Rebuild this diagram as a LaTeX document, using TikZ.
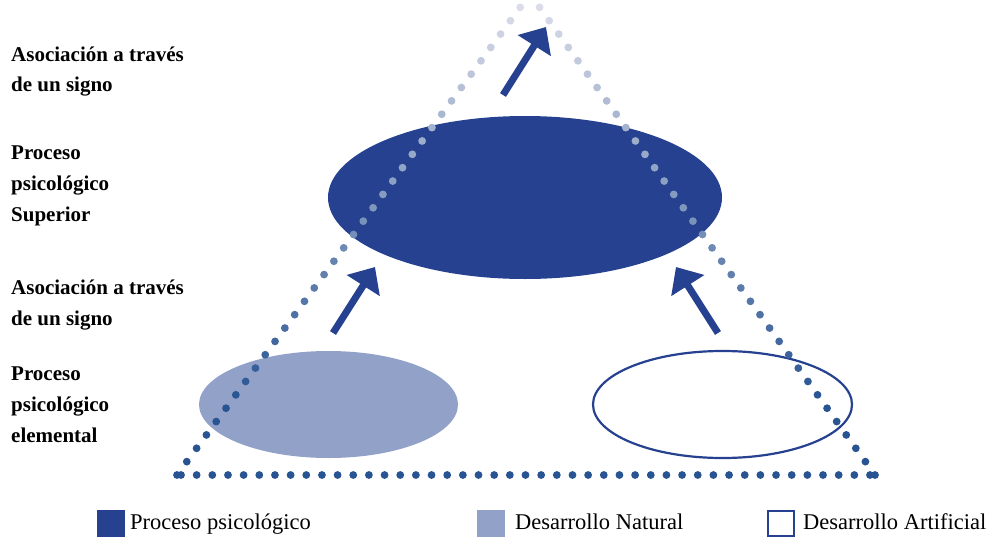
\documentclass[tikz,border=0pt]{standalone}
\usepackage{fontspec}
\setmainfont{Liberation Serif}
\usetikzlibrary{shapes.geometric,arrows.meta,calc}

\definecolor{mainblue}{RGB}{38,65,143}
\definecolor{natblue}{RGB}{146,161,200}
\definecolor{dotdark}{RGB}{40,84,146}
\definecolor{dotlight}{RGB}{228,228,238}

\begin{document}
\begin{tikzpicture}[x=1pt,y=-1pt,
  lbl/.style={anchor=base west,inner sep=0pt,font=\fontsize{21}{25}\selectfont\bfseries},
  legtext/.style={anchor=base west,inner sep=0pt,font=\fontsize{22.5}{26}\selectfont},
  procfill/.style={ellipse,fill=mainblue,inner sep=0pt},
  natfill/.style={ellipse,fill=natblue,inner sep=0pt},
  artline/.style={ellipse,draw=mainblue,line width=2.2pt,inner sep=0pt},
  bigarrow/.style={draw=mainblue,line width=7pt,
    -{Triangle[width=38pt,length=22pt]}},
  legbox/.style={rectangle,inner sep=0pt,minimum width=28pt,minimum height=27pt}]

\useasboundingbox (0,0) rectangle (991,538);
\clip (0,0) rectangle (991,538);

% process ellipses
\node[procfill,minimum width=394pt,minimum height=163pt] (sup) at (525,197.5) {};
\node[natfill,minimum width=259pt,minimum height=107pt] (nat) at (328.5,404.5) {};
\node[artline,minimum width=259pt,minimum height=107pt] (art) at (722.5,404.5) {};

% dotted triangle, fading towards the apex
\coordinate (BL) at (177,475);
\coordinate (BR) at (875,475);
\coordinate (AP) at (530,-6);
\foreach \xa/\ya/\xb/\yb/\n in {177/475/530/-6/36, 875/475/530/-6/36, 181/475/870/475/44}{
  \foreach \i in {0,...,\n}{
    \pgfmathsetmacro\fr{\i/\n}
    \pgfmathsetmacro\xx{\xa+(\xb-\xa)*\fr}
    \pgfmathsetmacro\yy{\ya+(\yb-\ya)*\fr}
    \pgfmathsetmacro\w{min(96,max(0,(400-\yy)/4.15))}
    \fill[dotlight!\w!dotdark] (\xx,\yy) circle (3.9);
  }
}

% association arrows
\coordinate (a1s) at (333,333);
\coordinate (a1e) at (375,267);
\coordinate (a2s) at (718,333);
\coordinate (a2e) at (676,267);
\coordinate (a3s) at (503,95);
\coordinate (a3e) at (546,27);
\draw[bigarrow] (a1s) -- (a1e);
\draw[bigarrow] (a2s) -- (a2e);
\draw[bigarrow] (a3s) -- (a3e);

% side labels
\node[lbl] (l1) at (11,61) {Asociación a través};
\node[lbl] (l2) at (11,91) {de un signo};
\node[lbl] (l3) at (11,159) {Proceso};
\node[lbl] (l4) at (11,190) {psicológico};
\node[lbl] (l5) at (11,221) {Superior};
\node[lbl] (l6) at (11,294) {Asociación a través};
\node[lbl] (l7) at (11,325) {de un signo};
\node[lbl] (l8) at (11,380) {Proceso};
\node[lbl] (l9) at (11,411) {psicológico};
\node[lbl] (l10) at (11,442) {elemental};

% legend
\node[legbox,fill=mainblue] (k1) at (111,523.5) {};
\node[legtext] (t1) at (130,529) {Proceso psicológico};
\node[legbox,fill=natblue] (k2) at (491,523.5) {};
\node[legtext] (t2) at (515,529) {Desarrollo Natural};
\node[legbox,draw=mainblue,line width=2.2pt,minimum width=25.8pt,minimum height=24.8pt] (k3) at (781,523.5) {};
\node[legtext] (t3) at (803,529) {Desarrollo Artificial};
\end{tikzpicture}
\end{document}
